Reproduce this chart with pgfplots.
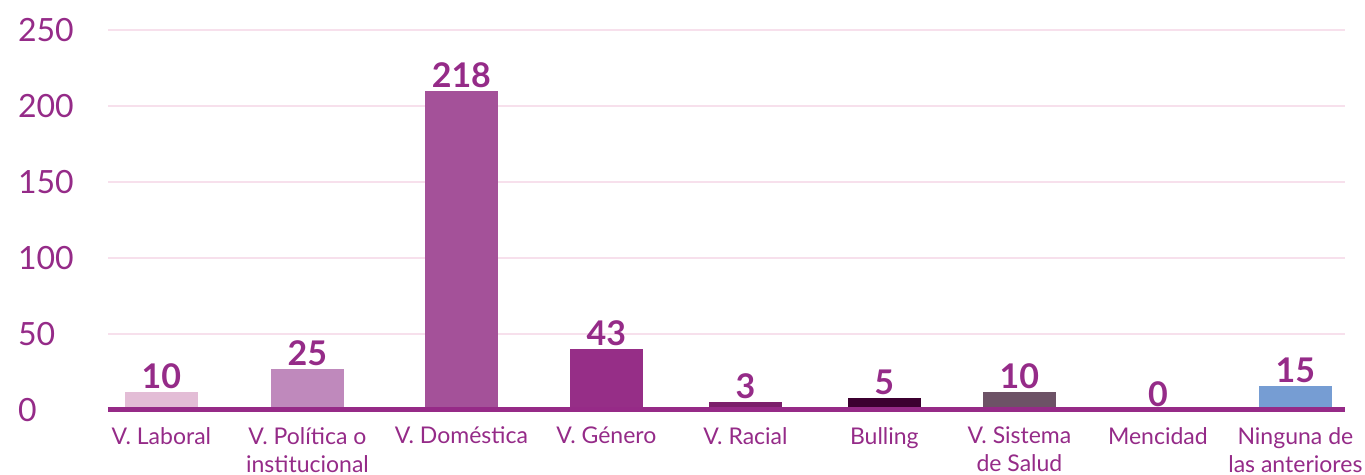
\documentclass[border=0pt]{standalone}
\usepackage{pgfplots}
\pgfplotsset{compat=1.18}
\usepackage{fontspec}
\setmainfont{Lato}

\definecolor{txt}{HTML}{952B88}
\definecolor{gridc}{HTML}{F7E0EC}
\definecolor{axisc}{HTML}{962A87}
\definecolor{cLab}{HTML}{E3BDD6}
\definecolor{cPol}{HTML}{BF89BC}
\definecolor{cDom}{HTML}{A45199}
\definecolor{cGen}{HTML}{962E87}
\definecolor{cRac}{HTML}{7C1F6B}
\definecolor{cBul}{HTML}{3C0030}
\definecolor{cSal}{HTML}{6D5266}
\definecolor{cNin}{HTML}{769DD3}

\begin{document}
\begin{tikzpicture}
\begin{axis}[
  at={(0,0)}, anchor=south west,
  scale only axis,
  width=618.5pt, height=190pt,
  xmin=-0.377, xmax=8.35,
  ymin=0, ymax=250,
  ytick={0,50,...,250},
  xtick={0,1.03,2.116,3.139,4.12,5.1,6.053,7.03,8},
  xticklabels={V. Laboral,{V. Política o\\institucional},V. Doméstica,V. Género,V. Racial,Bulling,{V. Sistema\\de Salud},Mencidad,{Ninguna de\\las anteriores}},
  xticklabel style={align=center, font=\fontsize{11.5}{14}\selectfont, text=txt, anchor=north, yshift=-5pt},
  yticklabel style={font=\fontsize{16}{16}\selectfont, text=txt, anchor=west, xshift=-48.5pt},
  /pgf/number format/assume math mode=true,
  axis line style={draw=none},
  major tick length=0pt,
  ymajorgrids, grid style={color=gridc, line width=1pt},
  ybar, bar width=36.5pt, bar shift=0pt,
  point meta=explicit symbolic,
  nodes near coords,
  every node near coord/.append style={font=\bfseries\fontsize{17}{17}\selectfont, text=txt, inner sep=1.5pt},
  clip=false,
]
\addplot[fill=cLab, draw=none] coordinates {(0,12) [10]};
\addplot[fill=cPol, draw=none] coordinates {(1.03,27) [25]};
\addplot[fill=cDom, draw=none] coordinates {(2.116,210) [218]};
\addplot[fill=cGen, draw=none] coordinates {(3.139,40) [43]};
\addplot[fill=cRac, draw=none] coordinates {(4.12,5) [3]};
\addplot[fill=cBul, draw=none] coordinates {(5.1,8) [5]};
\addplot[fill=cSal, draw=none] coordinates {(6.053,12) [10]};
\addplot[fill=none, draw=none] coordinates {(7.03,0) [0]};
\addplot[fill=cNin, draw=none] coordinates {(8,16) [15]};
\draw[axisc, line width=2.5pt] (axis cs:-0.377,0) -- (axis cs:8.35,0);
\end{axis}
\pgfresetboundingbox
\path[use as bounding box] (-54pt,-32.5pt) rectangle (628.5pt,205pt);
\end{tikzpicture}
\end{document}
